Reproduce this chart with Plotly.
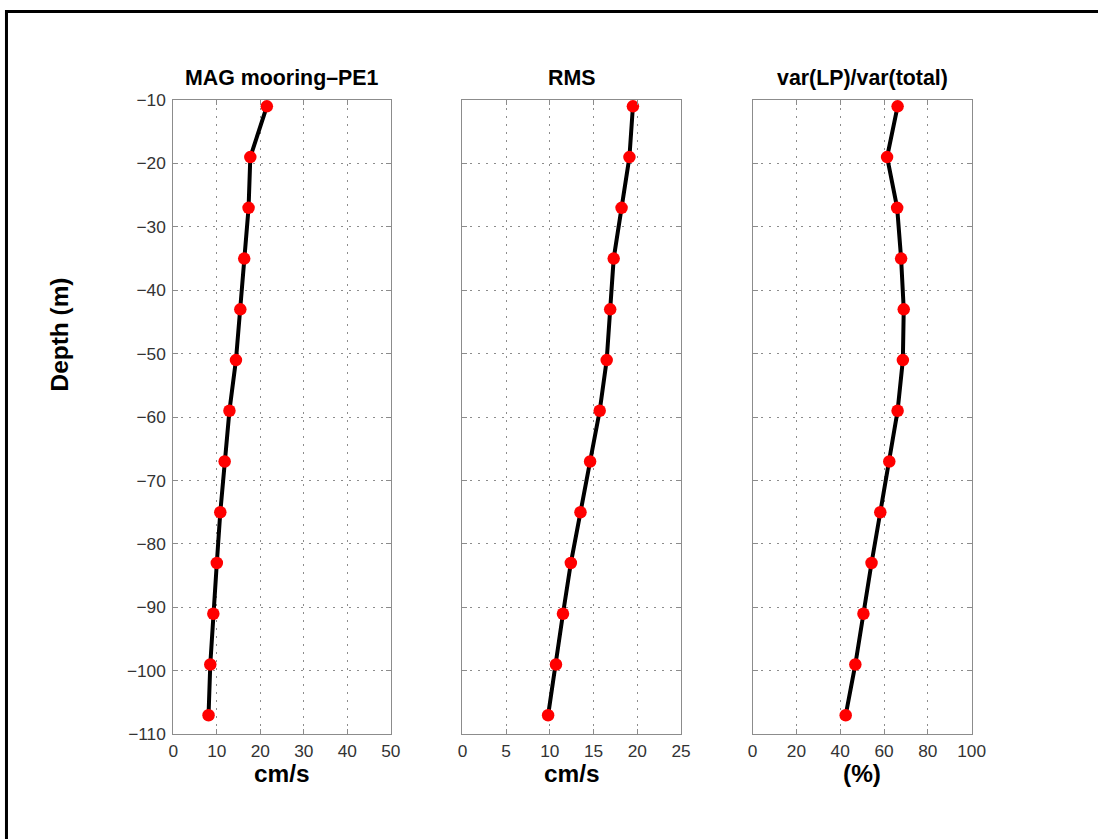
import plotly.graph_objects as go

depth = [-11, -19, -27, -35, -43, -51, -59, -67, -75, -83, -91, -99, -107]
mag = [21.5, 17.7, 17.3, 16.3, 15.4, 14.4, 12.9, 11.8, 10.8, 10.0, 9.2, 8.5, 8.1]
rms = [19.5, 19.1, 18.2, 17.3, 16.9, 16.5, 15.7, 14.6, 13.5, 12.4, 11.5, 10.7, 9.8]
ratio = [66.2, 61.4, 66.0, 67.8, 69.0, 68.6, 66.2, 62.4, 58.3, 54.3, 50.6, 46.9, 42.5]

titles = ["MAG mooring\u2013PE1", "RMS", "var(LP)/var(total)"]
xlabels = ["cm/s", "cm/s", "(%)"]
ylabel = "Depth (m)"
xranges = [[0, 50], [0, 25], [0, 100]]
xdticks = [10, 5, 20]
yticks = [-10, -20, -30, -40, -50, -60, -70, -80, -90, -100, -110]

W, H = 1098, 839
# the photographed page shows the figure slightly offset and shrunk; compensate
AX, BX, AY, BY = 6.0, 0.9856, 7.85, 0.981
FS = 1 / 0.983


def fx(px):
    return (px - AX) / BX / W


def fy(py):
    return 1 - (py - AY) / BY / H


px_left = [174.8, 464.8, 755.8]
px_right = [393.0, 684.0, 975.5]
y_top, y_bot = 98.3, 735.7

fig = go.Figure()
series = [mag, rms, ratio]
font_fam = "Liberation Sans, Arial, Helvetica, sans-serif"
grid_col = "#8c8c8c"
axis_col = "#8c8c8c"
tick_col = "#333333"

for i in range(3):
    xa = "x" if i == 0 else f"x{i+1}"
    ya = "y" if i == 0 else f"y{i+1}"
    fig.add_trace(go.Scatter(
        x=series[i], y=depth, xaxis=xa, yaxis=ya, mode="lines+markers",
        line=dict(color="black", width=4),
        marker=dict(color="red", size=12.5, line=dict(width=0)),
        showlegend=False, hoverinfo="skip"))
    dom_x = [fx(px_left[i]), fx(px_right[i])]
    dom_y = [fy(y_bot), fy(y_top)]
    xkey = "xaxis" if i == 0 else f"xaxis{i+1}"
    ykey = "yaxis" if i == 0 else f"yaxis{i+1}"
    fig.layout[xkey] = dict(
        domain=dom_x, range=xranges[i], dtick=xdticks[i], tick0=0,
        anchor=ya, showline=True, linecolor=axis_col, linewidth=1, mirror="ticks",
        ticks="inside", ticklen=5, tickcolor=axis_col,
        showgrid=True, gridcolor=grid_col, griddash="2px,6px", gridwidth=1,
        zeroline=False, fixedrange=True, ticklabelstandoff=1,
        tickfont=dict(family=font_fam, size=17 * FS, color=tick_col))
    fig.layout[ykey] = dict(
        domain=dom_y, range=[-110, -10], tickvals=yticks,
        anchor=xa, showline=True, linecolor=axis_col, linewidth=1, mirror="ticks",
        ticks="inside", ticklen=5, tickcolor=axis_col,
        showgrid=True, gridcolor=grid_col, griddash="2px,6px", gridwidth=1,
        zeroline=False, fixedrange=True, showticklabels=(i == 0),
        ticklabelstandoff=3,
        tickfont=dict(family=font_fam, size=17 * FS, color=tick_col))
    cx = fx((px_left[i] + px_right[i]) / 2)
    fig.add_annotation(
        x=cx, y=fy(76), xref="paper", yref="paper",
        text=f"<b>{titles[i]}</b>", showarrow=False, xanchor="center", yanchor="middle",
        font=dict(family=font_fam, size=21 * FS, color="black"))
    fig.add_annotation(
        x=cx, y=fy(775), xref="paper", yref="paper",
        text=f"<b>{xlabels[i]}</b>", showarrow=False, xanchor="center", yanchor="middle",
        font=dict(family=font_fam, size=24 * FS, color="black"))

fig.add_annotation(
    x=fx(61), y=fy(334), xref="paper", yref="paper", textangle=-90,
    text=f"<b>{ylabel}</b>", showarrow=False, xanchor="center", yanchor="middle",
    font=dict(family=font_fam, size=24 * FS, color="black"))

fig.add_shape(type="rect", xref="paper", yref="paper",
              x0=1.5 / W, x1=1.05, y0=-0.05, y1=1 - 1.5 / H,
              line=dict(color="black", width=3), fillcolor="rgba(0,0,0,0)")

fig.update_layout(
    width=W, height=H, margin=dict(l=0, r=0, t=0, b=0),
    paper_bgcolor="white", plot_bgcolor="white",
    font=dict(family=font_fam))

fig.write_html("out.html")
